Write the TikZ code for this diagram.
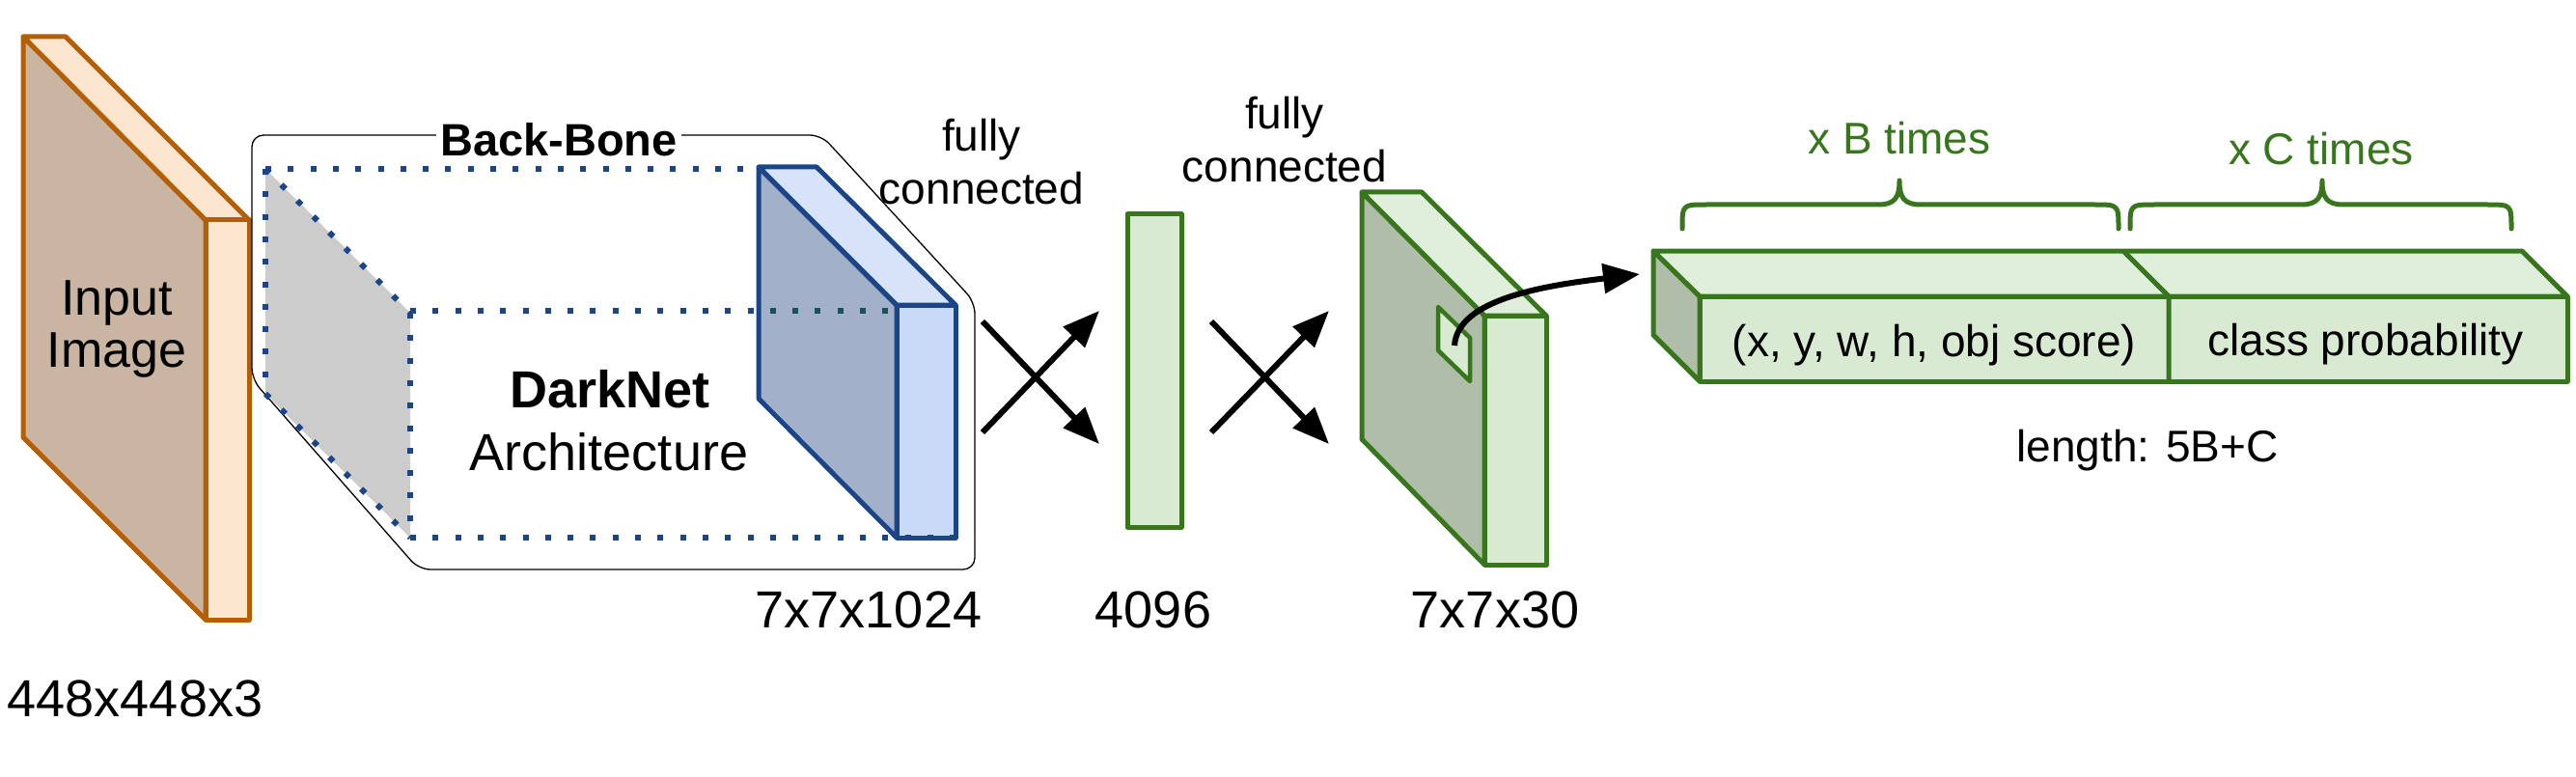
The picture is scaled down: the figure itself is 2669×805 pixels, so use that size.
\documentclass[tikz,border=0pt]{standalone}
\usepackage{fontspec}
\setmainfont{Liberation Sans}
\usetikzlibrary{arrows.meta}
\definecolor{orng}{HTML}{B45F06}
\definecolor{orngface}{HTML}{C9B5A2}
\definecolor{orngside}{HTML}{FDE6CF}
\definecolor{blu}{HTML}{1C4587}
\definecolor{bluteal}{HTML}{1B4F5C}
\definecolor{bluface}{HTML}{A2B1C9}
\definecolor{bluside}{HTML}{C9DAF8}
\definecolor{blutop}{HTML}{D6E3F9}
\definecolor{grn}{HTML}{38761D}
\definecolor{grnface}{HTML}{B0BDA9}
\definecolor{grnside}{HTML}{D9EAD3}
\definecolor{grntop}{HTML}{E0EFDC}
\begin{document}
\begin{tikzpicture}[x=1pt,y=-1pt,line join=round,
  obox/.style={draw=orng,line width=5pt},
  bbox/.style={draw=blu,line width=5pt},
  gbox/.style={draw=grn,line width=5pt},
  dots/.style={draw=blu,line width=6pt,dash pattern=on 6pt off 17.3pt},
  fc/.style={draw=black,line width=6pt,-{Triangle[length=38pt,width=30pt]}},
  big/.style={inner sep=0pt,font=\fontsize{54}{60}\selectfont},
  mid/.style={inner sep=0pt,font=\fontsize{46}{55}\selectfont},
  bracestyle/.style={draw=grn,line width=5pt,line cap=round}]
\useasboundingbox (0,0) rectangle (2669,805);

% ---------- input image ----------
\filldraw[obox,fill=orngface] (24,38) -- (213,228) -- (213,642) -- (24,453) -- cycle;
\filldraw[obox,fill=orngside] (24,38) -- (68,38) -- (258,228) -- (213,228) -- cycle;
\filldraw[obox,fill=orngside] (213,228) rectangle (258,642);
\node[inner sep=0pt,font=\fontsize{52}{54}\selectfont,align=center,anchor=north] (inp) at (121,291) {Input\\Image};
\node[big,anchor=base] (l448) at (140,742) {448x448x3};

% ---------- backbone ----------
\draw[line width=1.3pt,rounded corners=12pt] (500,140) -- (851,140) -- (1010,313) -- (1010,590) -- (434,590) -- (261,393) -- (261,140) -- cycle;
\node[inner sep=0pt,inner xsep=4pt,fill=white,font=\bfseries\fontsize{47}{56}\selectfont,anchor=base] (bb) at (579,162) {Back-Bone};

\fill[black!20] (275,175) -- (425,324) -- (425,557) -- (275,408) -- cycle;
\draw[dots] (275,175) -- (786,175);
\draw[dots] (275,175) -- (275,408);
\draw[dots] (275,175) -- (425,324);
\draw[dots] (275,408) -- (425,557);
\draw[dots] (425,324) -- (425,557);
\draw[dots] (425,322) -- (929,322);

\filldraw[bbox,fill=bluface] (786,173) -- (929,316) -- (929,557) -- (786,413) -- cycle;
\filldraw[bbox,fill=blutop] (786,173) -- (846,173) -- (990,316) -- (929,316) -- cycle;
\filldraw[bbox,fill=bluside] (929,316) rectangle (990,557);
\begin{scope}
  \clip (789,300) rectangle (927,345);
  \draw[dots,draw=bluteal] (425,322) -- (929,322);
\end{scope}
\draw[dots] (425,557) -- (990,557);

\node[inner sep=0pt,font=\bfseries\fontsize{54}{60}\selectfont,anchor=base] (dn) at (632,422) {DarkNet};
\node[big,anchor=base] (arch) at (631,487) {Architecture};
\node[big,anchor=base] (l1024) at (900,650) {7x7x1024};

% ---------- fully connected 1 ----------
\node[mid,align=center,anchor=north] (fc1) at (1017,123) {fully\\connected};
\coordinate (a1s) at (1018,333); \coordinate (a1e) at (1139,460);
\coordinate (b1s) at (1018,448); \coordinate (b1e) at (1139,322);
\draw[fc] (a1s) -- (a1e);
\draw[fc] (b1s) -- (b1e);

% ---------- 4096 ----------
\filldraw[gbox,fill=grnside] (1168,222) rectangle (1224,546);
\node[big,anchor=base] (l4096) at (1195,650) {4096};

% ---------- fully connected 2 ----------
\node[mid,align=center,anchor=north] (fc2) at (1331,100) {fully\\connected};
\coordinate (a2s) at (1255,333); \coordinate (a2e) at (1377,460);
\coordinate (b2s) at (1255,448); \coordinate (b2e) at (1377,322);
\draw[fc] (a2s) -- (a2e);
\draw[fc] (b2s) -- (b2e);

% ---------- 7x7x30 ----------
\filldraw[gbox,fill=grnface] (1411,199) -- (1538,327) -- (1538,585) -- (1411,455) -- cycle;
\filldraw[gbox,fill=grntop] (1411,199) -- (1473,199) -- (1602,327) -- (1538,327) -- cycle;
\filldraw[gbox,fill=grnside] (1538,327) rectangle (1602,585);
\filldraw[gbox,line width=4.5pt,fill=grnside] (1490,318) -- (1523,350) -- (1523,395) -- (1490,363) -- cycle;
\node[big,anchor=base] (l30) at (1549,650) {7x7x30};

\coordinate (cellc) at (1507,358);
\coordinate (outin) at (1699,284);
\draw[fc] (cellc) .. controls (1510,310) and (1600,296) .. (outin);

% ---------- output vector ----------
\filldraw[gbox,fill=grnface] (1713,260) -- (1761,307) -- (1761,395) -- (1713,347) -- cycle;
\filldraw[gbox,fill=grntop] (1713,260) -- (2613,260) -- (2660,307) -- (1761,307) -- cycle;
\filldraw[gbox,fill=grnside] (1761,307) rectangle (2660,395);
\draw[gbox] (2200,260) -- (2247,307) -- (2247,395);
\node[mid,anchor=base] (bx) at (2004,369) {(x, y, w, h, obj score)};
\node[mid,anchor=base] (cp) at (2451,368) {class probability};
\node[mid,anchor=base] (len) at (2225,478) {length: 5B+C};

% ---------- braces ----------
\draw[bracestyle] (1743,237) .. controls (1743,212) .. (1768,212) -- (1946,212)
  .. controls (1963,212) and (1968,205) .. (1968,187)
  .. controls (1968,205) and (1973,212) .. (1990,212) -- (2170,212)
  .. controls (2195,212) .. (2195,237);
\draw[bracestyle] (2207,237) .. controls (2207,212) .. (2232,212) -- (2384,212)
  .. controls (2401,212) and (2406,205) .. (2406,187)
  .. controls (2406,205) and (2411,212) .. (2428,212) -- (2577,212)
  .. controls (2602,212) .. (2602,237);
\node[mid,anchor=base,text=grn] (xb) at (1968,160) {x B times};
\node[mid,anchor=base,text=grn] (xc) at (2405,171) {x C times};
\end{tikzpicture}
\end{document}
